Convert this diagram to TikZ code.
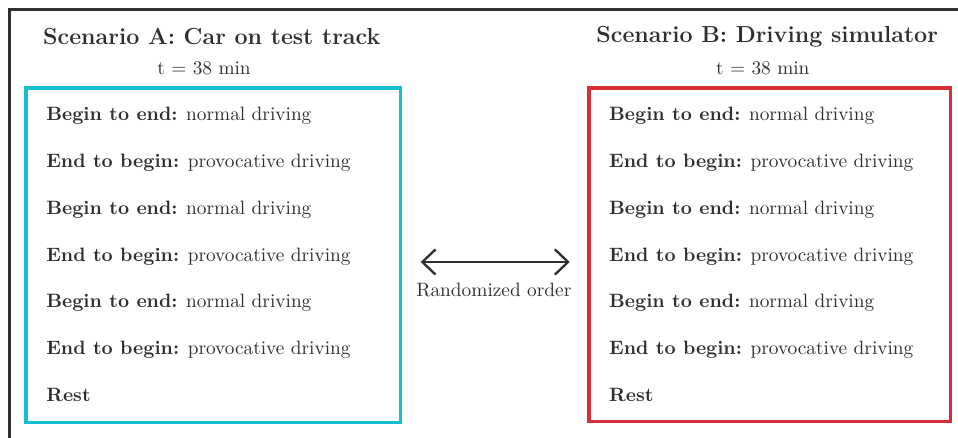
\documentclass[tikz,border=0pt]{standalone}
\usepackage{amsmath}
\usepackage{xcolor}
\usepackage{tikz}
\usetikzlibrary{positioning, arrows.meta}

\definecolor{trackcyan}{HTML}{17BECF}
\definecolor{simred}{HTML}{D62F36}
\definecolor{inkgray}{HTML}{2F2F2F}

\tikzset{
    scenariotitle/.style={font=\large\bfseries, text=inkgray},
    durationlabel/.style={text=inkgray},
    phaseitem/.style={anchor=west, inner xsep=0pt, text=inkgray, text height=1.6ex, text depth=.45ex},
    scenariobox/.style={line width=1.6pt}
}

\begin{document}
\begin{tikzpicture}[font=\normalsize]
    % Fix the picture size
    \clip (0,0) rectangle (17.42,-7.964);
    \useasboundingbox (0,0) rectangle (17.42,-7.964);

    % Draw the outer frame
    \draw[line width=1.5pt, inkgray] (0.18,-9) -- (0.18,-0.18) -- (18,-0.18);

    % Scenario A
    \node[scenariotitle] (titleA) at (3.85,-0.67) {Scenario A: Car on test track};
    \node[durationlabel] (timeA) at (3.71,-1.25) {t = 38 min};
    \draw[scenariobox, trackcyan] (0.473,-1.6) rectangle (7.29,-7.69);

    % Scenario B
    \node[scenariotitle] (titleB) at (13.95,-0.67) {Scenario B: Driving simulator};
    \node[durationlabel] (timeB) at (13.87,-1.25) {t = 38 min};
    \draw[scenariobox, simred] (10.71,-1.6) rectangle (17.29,-7.67);

    % List the driving phases
    \foreach \side/\xpos in {A/0.836, B/11.07} {
        \node[phaseitem] (\side1) at (\xpos,-2.11) {\textbf{Begin to end:} normal driving};
        \node[phaseitem] (\side2) at (\xpos,-2.96) {\textbf{End to begin:} provocative driving};
        \node[phaseitem] (\side3) at (\xpos,-3.815) {\textbf{Begin to end:} normal driving};
        \node[phaseitem] (\side4) at (\xpos,-4.67) {\textbf{End to begin:} provocative driving};
        \node[phaseitem] (\side5) at (\xpos,-5.51) {\textbf{Begin to end:} normal driving};
        \node[phaseitem] (\side6) at (\xpos,-6.36) {\textbf{End to begin:} provocative driving};
        \node[phaseitem] (\side7) at (\xpos,-7.215) {\textbf{Rest}};
    }

    % Randomized order between the scenarios
    \coordinate (orderL) at (7.65,-4.764);
    \coordinate (orderR) at (10.36,-4.764);
    \draw[{Straight Barb[length=2.4mm, width=4.6mm]}-{Straight Barb[length=2.4mm, width=4.6mm]}, line width=1.2pt, inkgray] (orderL) -- (orderR);
    \node[durationlabel] (order) at (8.98,-5.27) {Randomized order};
\end{tikzpicture}
\end{document}
